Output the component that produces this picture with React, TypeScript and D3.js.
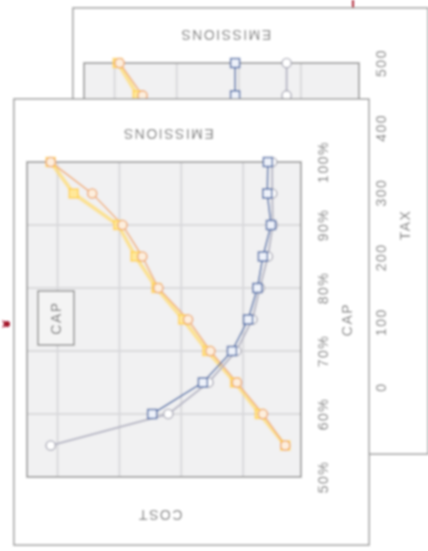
import React from "react";
import * as d3 from "d3";

// front sheet: CAP level vs emissions / cost (emission units)
const capLevels = [0.55, 0.6, 0.65, 0.7, 0.75, 0.8, 0.85, 0.9, 0.95, 1.0];
const capTicks = [0.5, 0.6, 0.7, 0.8, 0.9, 1.0];
const orangeCap = [32, 68, 110, 153, 189, 237, 263, 295, 344, 411];
const yellowCap = [32, 73, 113, 158, 197, 240, 274, 302, 374, 411];
const blueCap = [null, 247, 165, 118, 92, 77, 68, 55, 61, 60];
const grayCap = [411, 221, 156, 111, 85, 73, 60, 52, 53, 53];

// back sheet: TAX level (only the top is not hidden)
const taxLevels = [400, 450, 500];
const taxTicks = [0, 100, 200, 300, 400, 500];
const orangeTax = [320, 355, 392];
const yellowTax = [326, 363, 395];
const blueTax = [206, 206, 206];
const grayTax = [123, 123, 123];

const emissionGrid = [100, 200, 300, 400];

const FONT = "'Liberation Sans', Arial, sans-serif";
const TXT = "#767676";

type Pt = [number, number];

function pairs(levels: number[], vals: (number | null)[]): Pt[] {
  return levels
    .map((l, i) => [l, vals[i]] as [number, number | null])
    .filter((d) => d[1] !== null) as Pt[];
}

interface SheetProps {
  cardX: number;
  cardY: number;
  plot: { x0: number; x1: number; y0: number; y1: number };
  levelDomain: [number, number];
  ticks: number[];
  tickFmt: (v: number) => string;
  axisTitle: string;
  levels: number[];
  orange: number[];
  yellow: number[];
  blue: (number | null)[];
  gray: number[];
  showCost: boolean;
}

function Sheet(p: SheetProps) {
  const { x0, x1, y0, y1 } = p.plot;
  const y = d3.scaleLinear().domain(p.levelDomain).range([y1, y0]);
  const x = d3.scaleLinear().domain([0, 450]).range([x1 + 4, x0 - 0.4]);
  const line = d3
    .line<Pt>()
    .x((d) => x(d[1]))
    .y((d) => y(d[0]));

  const oPts = pairs(p.levels, p.orange);
  const yPts = pairs(p.levels, p.yellow);
  const bPts = pairs(p.levels, p.blue);
  const gPts = pairs(p.levels, p.gray);
  const midX = (x0 + x1) / 2;
  const midY = (y0 + y1) / 2;
  const clipId = "clip" + p.cardX;

  return (
    <g>
      <rect x={p.cardX} y={p.cardY} width={355} height={446} fill="#fff" stroke="#9a9a9a" strokeWidth={1.5} />
      <defs>
        <clipPath id={clipId}>
          <rect x={x0 - 6} y={y0 - 6} width={x1 - x0 + 12} height={y1 - y0 + 12} />
        </clipPath>
      </defs>
      <rect x={x0} y={y0} width={x1 - x0} height={y1 - y0} fill="#f1f1f2" />
      {emissionGrid.map((v) => (
        <line key={"v" + v} x1={x(v)} x2={x(v)} y1={y0} y2={y1} stroke="#d9d9dc" strokeWidth={2} />
      ))}
      {p.ticks.slice(1, -1).map((t) => (
        <line key={"h" + t} x1={x0} x2={x1} y1={y(t)} y2={y(t)} stroke="#d9d9dc" strokeWidth={2} />
      ))}
      <rect x={x0} y={y0} width={x1 - x0} height={y1 - y0} fill="none" stroke="#9c9c9c" strokeWidth={1.8} />

      <g clipPath={`url(#${clipId})`}>
        <path d={line(yPts) || ""} fill="none" stroke="#ffdb6e" strokeWidth={4} strokeOpacity={0.7} />
        <path d={line(oPts) || ""} fill="none" stroke="#f2b37c" strokeWidth={1.6} />
        <path d={line(gPts) || ""} fill="none" stroke="#b8b8c6" strokeWidth={2} />
        <path d={line(bPts) || ""} fill="none" stroke="#5876ad" strokeWidth={1.6} />
        {yPts.map((d, i) => (
          <rect key={"ys" + i} x={x(d[1]) - 4.5} y={y(d[0]) - 4.5} width={9} height={9} fill="#ffe89a" stroke="#ffd24d" strokeWidth={1.4} />
        ))}
        {oPts.map((d, i) => (
          <circle key={"oc" + i} cx={x(d[1])} cy={y(d[0])} r={4.6} fill="#fdeedd" stroke="#eea566" strokeWidth={1.4} />
        ))}
        {gPts.map((d, i) => (
          <circle key={"gc" + i} cx={x(d[1])} cy={y(d[0])} r={4.6} fill="#fff" stroke="#a9a9b6" strokeWidth={1.4} />
        ))}
        {bPts.map((d, i) => (
          <rect key={"bs" + i} x={x(d[1]) - 4.5} y={y(d[0]) - 4.5} width={9} height={9} fill="#eef2fa" stroke="#4d6ca8" strokeWidth={1.5} />
        ))}
      </g>

      {p.ticks.map((t) => (
        <text key={"t" + t} transform={`translate(${x1 + 27},${y(t)}) rotate(-90)`} textAnchor="middle" fontSize={14} letterSpacing={1.5} fill={TXT} fontFamily={FONT}>
          {p.tickFmt(t)}
        </text>
      ))}
      <text transform={`translate(${x1 + 51},${midY}) rotate(-90)`} textAnchor="middle" fontSize={14} letterSpacing={1.5} fill={TXT} fontFamily={FONT}>
        {p.axisTitle}
      </text>
      <text transform={`translate(${midX + 4},${y0 - 33}) rotate(180)`} textAnchor="middle" fontSize={14} letterSpacing={1.5} fill={TXT} fontFamily={FONT}>
        EMISSIONS
      </text>
      {p.showCost && (
        <text transform={`translate(${midX - 4},${y1 + 33}) rotate(180)`} textAnchor="middle" fontSize={14} letterSpacing={1.5} fill={TXT} fontFamily={FONT}>
          COST
        </text>
      )}
    </g>
  );
}

export default function App() {
  const pct = d3.format(".0%");
  return (
    <div style={{ position: "fixed", left: 0, top: 0, width: 428, height: 551, background: "#fff" }}>
      <svg width={428} height={551} viewBox="0 0 428 551">
        <defs>
          <filter id="soft" x="-5%" y="-5%" width="110%" height="110%">
            <feGaussianBlur stdDeviation={0.8} />
          </filter>
        </defs>
        <g filter="url(#soft)">
          <Sheet
            cardX={73}
            cardY={8}
            plot={{ x0: 84, x1: 359, y0: 63, y1: 387 }}
            levelDomain={[0, 500]}
            ticks={taxTicks}
            tickFmt={(v) => String(v)}
            axisTitle="TAX"
            levels={taxLevels}
            orange={orangeTax}
            yellow={yellowTax}
            blue={blueTax}
            gray={grayTax}
            showCost={false}
          />
          <Sheet
            cardX={14}
            cardY={99}
            plot={{ x0: 27, x1: 301, y0: 162, y1: 477 }}
            levelDomain={[0.5, 1]}
            ticks={capTicks}
            tickFmt={(v) => pct(v)}
            axisTitle="CAP"
            levels={capLevels}
            orange={orangeCap}
            yellow={yellowCap}
            blue={blueCap}
            gray={grayCap}
            showCost={true}
          />
          {/* CAP tag on the front sheet */}
          <rect x={38} y={291} width={36} height={54} fill="#f4f4f4" stroke="#8e8e8e" strokeWidth={1.5} />
          <text transform="translate(61,318) rotate(-90)" textAnchor="middle" fontSize={14} letterSpacing={1.5} fill="#6e6e6e" fontFamily={FONT}>
            CAP
          </text>
          {/* red markers */}
          <line x1={353} x2={353} y1={0} y2={8} stroke="#b0283a" strokeWidth={2} />
          <path d="M2,320 L9,324 L2,328 L4,324 Z" fill="#a3142c" />
          <circle cx={7} cy={324} r={3} fill="#a3142c" />
        </g>
      </svg>
    </div>
  );
}
